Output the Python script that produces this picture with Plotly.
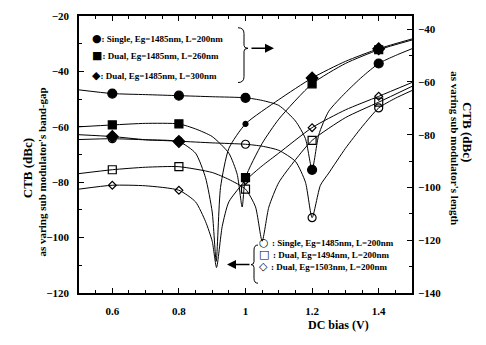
import plotly.graph_objects as go

# ---- data -------------------------------------------------------------
bias_pts = [0.6, 0.8, 1.0, 1.2, 1.4]

# right axis: varying sub modulator length (filled markers)
len_single200_pts = [-64.4, -65.2, -66.0, -93.3, -53.0]
len_dual260_pts = [-76.3, -75.9, -96.3, -60.7, -47.8]
len_dual300_pts = [-80.7, -82.6, -75.9, -58.5, -47.4]

# left axis: varying sub modulator band-gap (open markers)
gap_single1485_pts = [-64.3, -65.2, -66.3, -92.8, -53.2]
gap_dual1494_pts = [-75.5, -74.4, -82.5, -64.9, -51.1]
gap_dual1503_pts = [-81.1, -82.9, -79.4, -60.3, -49.0]

# calculated curves
len_single200_x = [0.5, 0.6, 0.7, 0.8, 0.9, 1.0, 1.05, 1.1, 1.15, 1.18, 1.2, 1.22, 1.25, 1.3, 1.35, 1.4, 1.45, 1.5]
len_single200_y = [-63.0, -64.4, -64.8, -65.2, -65.6, -66.0, -67.0, -68.9, -74.8, -81.5, -93.3, -80.0, -71.1, -64.1, -58.1, -53.0, -50.0, -47.4]

len_dual260_x = [0.5, 0.6, 0.7, 0.8, 0.85, 0.9, 0.95, 0.975, 0.99, 1.0, 1.05, 1.1, 1.2, 1.3, 1.4, 1.5]
len_dual260_y = [-77.0, -76.3, -75.7, -75.9, -77.8, -80.7, -87.0, -95.0, -107.4, -96.3, -83.3, -74.1, -60.7, -53.0, -47.8, -44.1]

len_dual300_x = [0.5, 0.6, 0.7, 0.8, 0.85, 0.88, 0.9, 0.912, 0.925, 0.95, 1.0, 1.1, 1.2, 1.3, 1.4, 1.5]
len_dual300_y = [-80.0, -80.7, -81.9, -82.6, -87.0, -96.3, -109.3, -128.0, -100.0, -85.2, -75.9, -66.7, -58.5, -52.2, -47.4, -43.7]

gap_single1485_x = [0.5, 0.6, 0.7, 0.8, 0.9, 1.0, 1.05, 1.1, 1.15, 1.18, 1.2, 1.225, 1.25, 1.3, 1.35, 1.4, 1.45, 1.5]
gap_single1485_y = [-64.6, -64.3, -64.7, -65.2, -65.8, -66.3, -67.0, -68.5, -72.5, -80.0, -92.8, -81.1, -76.7, -67.8, -60.0, -53.2, -49.7, -46.9]

gap_dual1494_x = [0.5, 0.6, 0.7, 0.8, 0.9, 0.95, 1.0, 1.03, 1.05, 1.07, 1.1, 1.15, 1.2, 1.3, 1.4, 1.5]
gap_dual1494_y = [-76.9, -75.5, -74.6, -74.4, -76.5, -79.0, -82.5, -88.9, -101.3, -89.0, -80.1, -71.9, -64.9, -56.7, -51.1, -45.4]

gap_dual1503_x = [0.5, 0.6, 0.7, 0.8, 0.85, 0.88, 0.9, 0.913, 0.93, 0.95, 1.0, 1.05, 1.1, 1.2, 1.3, 1.4, 1.5]
gap_dual1503_y = [-82.5, -81.1, -81.3, -82.9, -87.1, -94.2, -101.3, -110.8, -96.0, -87.1, -79.4, -74.1, -69.5, -60.3, -53.9, -49.0, -44.0]

x_ticks = [0.6, 0.8, 1.0, 1.2, 1.4]
x_tick_text = ["0.6", "0.8", "1", "1.2", "1.4"]

len_legend = [("●", ": Single, Eg=1485nm, L=200nm"),
              ("■", ": Dual, Eg=1485nm, L=260nm"),
              ("◆", ": Dual, Eg=1485nm, L=300nm")]
gap_legend = [("○", ": Single, Eg=1485nm, L=200nm"),
              ("□", ": Dual, Eg=1494nm, L=200nm"),
              ("◇", ": Dual, Eg=1503nm, L=200nm")]

# ---- figure -----------------------------------------------------------
W, H = 486, 345
L, R, T, B = 79, 412, 10, 293
SERIF = "Liberation Serif, Times New Roman, serif"

fig = go.Figure()

def curve(x, y, axis):
    fig.add_trace(go.Scatter(x=x, y=y, mode="lines", yaxis=axis,
                             line=dict(color="black", width=1, shape="spline", smoothing=0.6),
                             hoverinfo="skip"))

def marks(y, axis, symbol, size, x=bias_pts):
    fig.add_trace(go.Scatter(x=x, y=y, mode="markers", yaxis=axis,
                             marker=dict(symbol=symbol, size=size, color="black",
                                         line=dict(color="black", width=1.2))))

curve(len_single200_x, len_single200_y, "y2")
curve(len_dual260_x, len_dual260_y, "y2")
curve(len_dual300_x, len_dual300_y, "y2")
curve(gap_single1485_x, gap_single1485_y, "y")
curve(gap_dual1494_x, gap_dual1494_y, "y")
curve(gap_dual1503_x, gap_dual1503_y, "y")

marks(len_single200_pts, "y2", "circle", 9)
marks(len_dual260_pts, "y2", "square", 8)
marks(len_dual300_pts[:2] + len_dual300_pts[3:], "y2", "diamond", 9,
      x=bias_pts[:2] + bias_pts[3:])
marks(len_dual300_pts[2:3], "y2", "circle", 5, x=bias_pts[2:3])
marks(gap_single1485_pts, "y", "circle-open", 8)
marks(gap_dual1494_pts, "y", "square-open", 8)
marks(gap_dual1503_pts, "y", "diamond-open", 6)

def px(v):
    return (v - L) / (R - L)

def py(v):
    return (B - v) / (B - T)

ann = []
shapes = []

def legend_row(sym, txt, x0, yy, gap):
    ann.append(dict(x=px(x0), y=py(yy), xref="paper", yref="paper", xanchor="left",
                    text=f"<span style='font-family:DejaVu Sans;font-size:11px'>{sym}{gap}</span>"
                         f"<b>{txt}</b>",
                    showarrow=False, font=dict(family=SERIF, size=9, color="black")))

# legend for the length series (upper left), pointing to the right axis
for (sym, txt), yy in zip(len_legend, [24, 42, 62]):
    legend_row(sym, txt, 90, yy, "")
shapes.append(dict(type="path", xref="paper", yref="paper",
                   path=f"M {px(238)},{py(22)} Q {px(244)},{py(22)} {px(244)},{py(28)} "
                        f"L {px(244)},{py(40)} Q {px(244)},{py(43)} {px(248)},{py(43)} "
                        f"Q {px(244)},{py(43)} {px(244)},{py(46)} L {px(244)},{py(72)} "
                        f"Q {px(244)},{py(78)} {px(238)},{py(78)}",
                   line=dict(color="black", width=1)))
ann.append(dict(x=px(274), y=py(43), xref="paper", yref="paper", ax=-24, ay=0,
                text="", showarrow=True, arrowhead=2, arrowsize=1.2, arrowwidth=1.5,
                arrowcolor="black"))

# legend for the band-gap series (lower right), pointing to the left axis
for (sym, txt), yy in zip(gap_legend, [250, 262, 275]):
    legend_row(sym, txt, 257, yy, " ")
shapes.append(dict(type="path", xref="paper", yref="paper",
                   path=f"M {px(258)},{py(244)} Q {px(254)},{py(244)} {px(254)},{py(249)} "
                        f"L {px(254)},{py(261)} Q {px(254)},{py(264)} {px(251)},{py(264)} "
                        f"Q {px(254)},{py(264)} {px(254)},{py(267)} L {px(254)},{py(278)} "
                        f"Q {px(254)},{py(283)} {px(258)},{py(283)}",
                   line=dict(color="black", width=1)))
ann.append(dict(x=px(227), y=py(264), xref="paper", yref="paper", ax=24, ay=0,
                text="", showarrow=True, arrowhead=2, arrowsize=1.2, arrowwidth=1.5,
                arrowcolor="black"))

# axis titles
ann.append(dict(x=px(18), y=py(166), xref="paper", yref="paper", text="<b>CTB (dBc)</b>",
                textangle=-90, showarrow=False, font=dict(family=SERIF, size=13, color="black")))
ann.append(dict(x=px(34), y=py(170), xref="paper", yref="paper",
                text="<b>as varing sub modulator's band-gap</b>",
                textangle=-90, showarrow=False, font=dict(family=SERIF, size=11, color="black")))
ann.append(dict(x=px(477), y=py(128), xref="paper", yref="paper", text="<b>CTB (dBc)</b>",
                textangle=90, showarrow=False, font=dict(family=SERIF, size=13, color="black")))
ann.append(dict(x=px(463), y=py(145), xref="paper", yref="paper",
                text="<b>as varing sub modulator's length</b>",
                textangle=90, showarrow=False, font=dict(family=SERIF, size=11, color="black")))
ann.append(dict(x=px(371), y=py(335), xref="paper", yref="paper", text="<b>DC bias (V)</b>",
                showarrow=False, font=dict(family=SERIF, size=12, color="black")))

tickfont = dict(family=SERIF, size=11, color="black", weight="bold")

fig.update_layout(
    width=W, height=H, showlegend=False,
    paper_bgcolor="white", plot_bgcolor="white",
    margin=dict(l=L, r=W - R, t=T, b=H - B),
    xaxis=dict(range=[0.5, 1.5], tickvals=x_ticks, ticktext=x_tick_text,
               ticks="inside", ticklen=5, tickwidth=1, tickcolor="black",
               showline=True, linecolor="black", linewidth=1.5, mirror="ticks",
               showgrid=False, zeroline=False, tickfont=tickfont, ticklabelstandoff=7,
               minor=dict(dtick=0.05, tick0=0.5, ticks="inside", ticklen=3,
                          tickcolor="black", showgrid=False)),
    yaxis=dict(range=[-120, -20], dtick=20, ticks="inside", ticklen=5, tickwidth=1,
               tickcolor="black", showline=True, linecolor="black", linewidth=1.5,
               showgrid=False, zeroline=False, tickfont=tickfont, ticklabelstandoff=6,
               minor=dict(dtick=10, ticks="inside", ticklen=3, tickcolor="black",
                          showgrid=False)),
    yaxis2=dict(range=[-140, -35], tickvals=[-140, -120, -100, -80, -60, -40],
                overlaying="y", side="right", ticks="inside", ticklen=5, tickwidth=1,
                tickcolor="black", showline=True, linecolor="black", linewidth=1.5,
                showgrid=False, zeroline=False, tickfont=tickfont, ticklabelstandoff=2,
                minor=dict(dtick=10, tick0=-140, ticks="inside", ticklen=3,
                           tickcolor="black", showgrid=False)),
    annotations=ann, shapes=shapes,
)

fig.write_html("out.html")
